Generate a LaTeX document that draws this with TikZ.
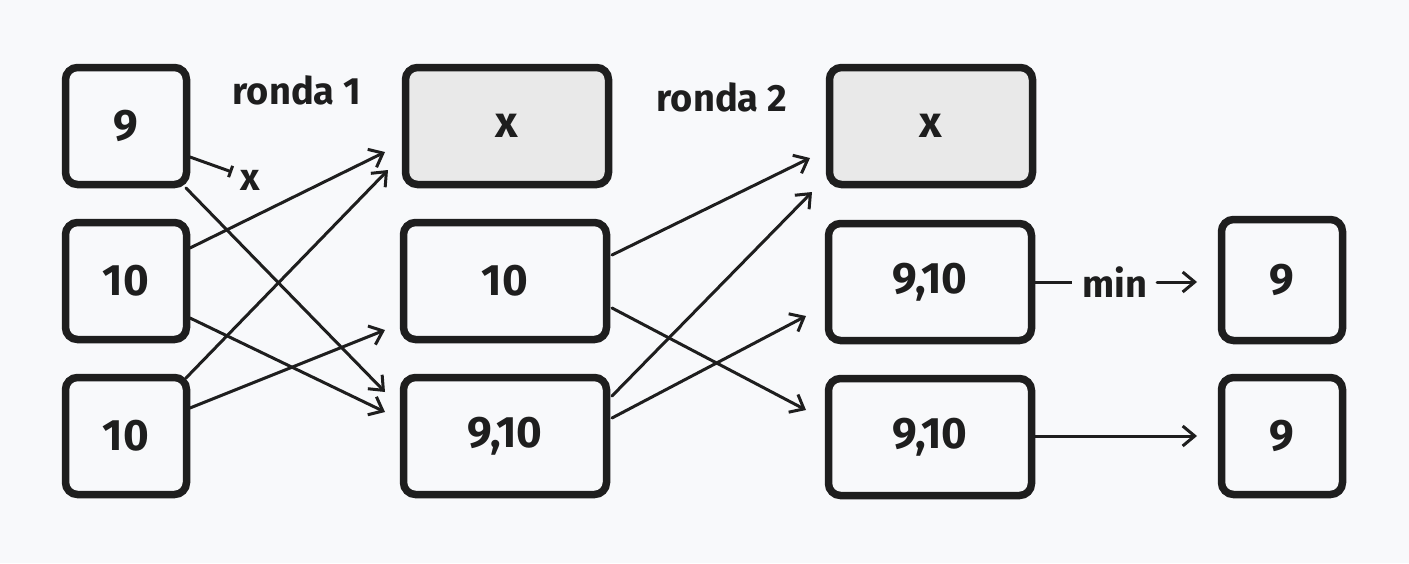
\documentclass[tikz,border=0pt]{standalone}
\usepackage{fontspec}
\setmainfont{Fira Sans}
\usetikzlibrary{arrows.meta,calc}
\definecolor{bg}{HTML}{F8F9FB}
\definecolor{ink}{HTML}{1E1E1E}
\definecolor{shade}{HTML}{E9E9E9}
\begin{document}
\begin{tikzpicture}[x=1pt,y=-1pt,
  box/.style={draw=ink,line width=7.5pt,rounded corners=12pt,inner sep=0pt,
    font=\fontsize{44}{48}\selectfont\bfseries,text=ink},
  sq/.style={box,minimum width=121pt,minimum height=117pt},
  wide/.style={box,minimum width=203pt,minimum height=117pt},
  grey/.style={fill=shade},
  arr/.style={draw=ink,line width=3pt,line cap=round,-{Straight Barb[length=12pt,width=20pt,line width=3pt]}},
  lbl/.style={font=\fontsize{38}{42}\selectfont\bfseries,text=ink,inner sep=0pt}]
\useasboundingbox[fill=bg] (0,0) rectangle (1409,563);
% column 1
\node[sq] (A1) at (126,126) {9};
\node[sq] (A2) at (126,281) {10};
\node[sq] (A3) at (126,436) {10};
% column 2
\node[wide,grey] (B1) at (507,126) {x};
\node[wide] (B2) at (505,281) {10};
\node[wide] (B3) at (505,436) {9,10};
% column 3
\node[wide,grey] (C1) at (931,126) {x};
\node[wide] (C2) at (930,282) {9,10};
\node[wide] (C3) at (930,437) {9,10};
% column 4
\node[sq,minimum height=121pt] (D1) at (1282,280) {9};
\node[sq] (D2) at (1282,436) {9};
% labels
\node[lbl] (r1) at (297,90) {ronda 1};
\node[lbl] (r2) at (722,97) {ronda 2};
\node[lbl] (xx) at (250,180) {x};
\node[lbl] (mn) at (1115,282) {min};
\coordinate (tee) at (232,172);
% blocked connector
\draw[draw=ink,line width=3pt,line cap=round,-{Bar[width=12pt,line width=3pt]}] ($(A1.center)+(64,31)$) -- (tee);
% round 1
\draw[arr] ($(A1.center)+(60,62)$) -- ($(B3.center)+(-120,-44)$);
\draw[arr] ($(A2.center)+(64,-33)$) -- ($(B1.center)+(-122,26)$);
\draw[arr] ($(A2.center)+(64,37)$) -- ($(B3.center)+(-120,-24)$);
\draw[arr] ($(A3.center)+(60,-58)$) -- ($(B1.center)+(-119,44)$);
\draw[arr] ($(A3.center)+(64,-28)$) -- ($(B2.center)+(-120,49)$);
% round 2
\draw[arr] ($(B2.center)+(107,-26)$) -- ($(C1.center)+(-121,32)$);
\draw[arr] ($(B2.center)+(107,27)$) -- ($(C3.center)+(-124,-27)$);
\draw[arr] ($(B3.center)+(107,-40)$) -- ($(C1.center)+(-119,66)$);
\draw[arr] ($(B3.center)+(107,-18)$) -- ($(C2.center)+(-124,34)$);
% final
\draw[draw=ink,line width=3pt] (C2.east) -- (mn.west -| 1072,0) ;
\draw[arr] (mn.east -| 1157,0) -- ($(D1.center)+(-85,2)$);
\draw[arr] (C3.east |- 0,436) -- ($(D2.center)+(-85,0)$);
\end{tikzpicture}
\end{document}
